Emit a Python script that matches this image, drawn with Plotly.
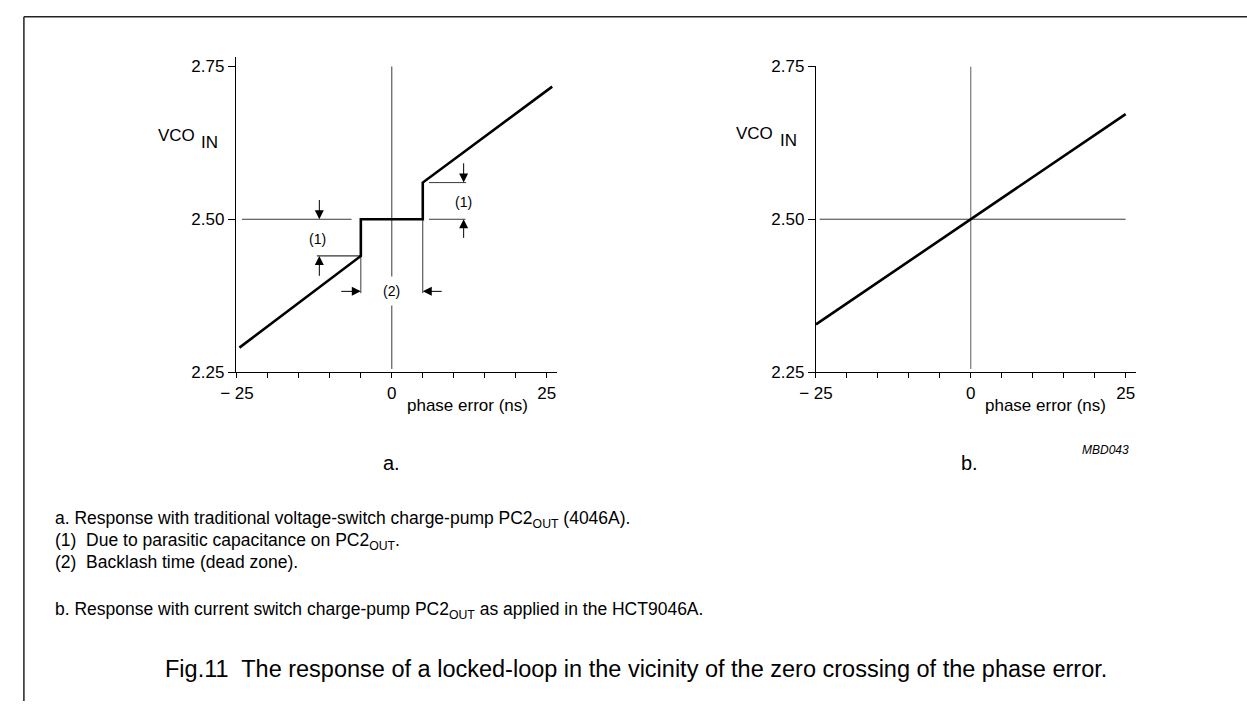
import plotly.graph_objects as go

W, H = 1247, 711
FONT = "Liberation Sans, Arial, Helvetica, sans-serif"

# ---- data -------------------------------------------------------------
# (a) voltage-switch charge pump: linear response with a dead zone step
phase_a = [-24.6, -5.0, -5.0, 5.0, 5.0, 25.9]
vco_a = [2.29, 2.44, 2.50, 2.50, 2.56, 2.717]

# (b) current-switch charge pump: straight line through the origin
phase_b = [-25.0, 25.0]
vco_b = [2.328, 2.672]

# axis ticks
x_tickvals = [-25, -20, -15, -10, -5, 0, 5, 10, 15, 20, 25]
x_ticktext = ["\u2212 25", "", "", "", "", "0", "", "", "", "", "25"]
y_tickvals = [2.25, 2.50, 2.75]
y_ticktext = ["2.25", "2.50", "2.75"]

# reference lines (2.50 V level and zero phase error)
v_ref = 2.50
zero_line_v = [2.255, 2.75]
ref_a_left = [-24.2, -6.5]
ref_a_right = [6.0, 11.9]
ref_b = [-24.4, 25.0]

# dimension markers in panel (a)
step_low, step_high = 2.44, 2.56
dim1_left_x = -11.7
dim1_left_ext = [-12.1, -5.0]
dim1_right_x = 11.6
dim1_right_ext = [6.0, 12.0]
dim2_level = 2.382
dim2_ext_bottom = 2.379
dim2_edges = [-5.0, 5.0]
dim2_tails = [-8.4, 8.3]


def px(x):
    return x / W


def py(y):
    return 1 - y / H


fig = go.Figure()

thin = dict(color="#3a3a3a", width=1)
blk = dict(color="black", width=1)


def seg(xs, ys, line, xa="x", ya="y"):
    fig.add_trace(go.Scatter(x=xs, y=ys, mode="lines", line=line,
                             xaxis=xa, yaxis=ya, hoverinfo="skip",
                             showlegend=False))


# panel (a) reference lines
seg(ref_a_left, [v_ref, v_ref], thin)
seg(ref_a_right, [v_ref, v_ref], thin)
seg([0, 0], zero_line_v, thin)
# extension lines for the dimension marks
seg(dim1_left_ext, [step_low, step_low], blk)
seg(dim1_right_ext, [step_high, step_high], thin)
seg([dim2_edges[0]] * 2, [step_low, dim2_ext_bottom], thin)
seg([dim2_edges[1]] * 2, [v_ref, dim2_ext_bottom], thin)
# response curve (a)
seg(phase_a, vco_a, dict(color="black", width=2.6))

# panel (b)
seg(ref_b, [v_ref, v_ref], thin, "x2", "y2")
seg([0, 0], zero_line_v, dict(color="#5a5a5a", width=1), "x2", "y2")
seg(phase_b, vco_b, dict(color="black", width=2.6), "x2", "y2")

axis_common = dict(showgrid=False, zeroline=False, showline=True,
                   linecolor="black", linewidth=1.3, ticks="outside",
                   tickcolor="black", tickwidth=1,
                   tickfont=dict(family=FONT, size=17, color="black"))

xa = dict(axis_common, range=[-25.16, 26.6], tickmode="array",
          tickvals=x_tickvals, ticktext=x_ticktext, ticklen=5)
ya = dict(axis_common, tickmode="array", tickvals=y_tickvals,
          ticktext=y_ticktext, ticklen=7)

fig.update_layout(
    width=W, height=H,
    margin=dict(l=0, r=0, t=0, b=0),
    paper_bgcolor="white", plot_bgcolor="white",
    xaxis=dict(xa, domain=[px(222), px(547)], anchor="y"),
    yaxis=dict(ya, domain=[py(373), py(49)], range=[2.25, 2.766], anchor="x"),
    xaxis2=dict(xa, domain=[px(810), px(1134)], range=[-25.0, 26.6], anchor="y2"),
    yaxis2=dict(ya, domain=[py(373), py(59)], range=[2.25, 2.75], anchor="x2"),
    font=dict(family=FONT, color="black"),
)

ann = []


def arrow(x, y, ax, ay, xr="x", yr="y"):
    ann.append(dict(x=x, y=y, ax=ax, ay=ay, xref=xr, yref=yr,
                    axref=xr, ayref=yr, text="", showarrow=True,
                    arrowhead=2, arrowsize=1.8, arrowwidth=1,
                    arrowcolor="black"))


# (1) left: step from 2.44 up to 2.50
arrow(dim1_left_x, v_ref, dim1_left_x, 2.534)
arrow(dim1_left_x, step_low, dim1_left_x, 2.405)
# (1) right: step from 2.50 up to 2.56
arrow(dim1_right_x, step_high, dim1_right_x, 2.594)
arrow(dim1_right_x, v_ref, dim1_right_x, 2.467)
# (2) dead zone width
arrow(dim2_edges[0], dim2_level, dim2_tails[0], dim2_level)
arrow(dim2_edges[1], dim2_level, dim2_tails[1], dim2_level)


def text(x, y, s, size=16, xr="paper", yr="paper", xanchor="center", **kw):
    d = dict(x=x, y=y, xref=xr, yref=yr, text=s, showarrow=False,
             xanchor=xanchor, yanchor="middle",
             font=dict(family=FONT, size=size, color="black"))
    d.update(kw)
    ann.append(d)


text(-12.0, 2.467, "(1)", 14, "x", "y")
text(11.6, 2.529, "(1)", 14, "x", "y")
text(0, dim2_level, "(2)", 14, "x", "y", bgcolor="white", borderpad=6)

# axis titles
text(px(182), py(130), "VCO", 17, xanchor="right")
text(px(185), py(137), "IN", 17, xanchor="left")
text(px(768), py(128), "VCO", 17, xanchor="right")
text(px(772), py(135), "IN", 17, xanchor="left")
text(px(457), py(407), "phase error (ns)", 17)
text(px(1043), py(407), "phase error (ns)", 17)

# panel letters and drawing code
text(px(380), py(466), "a.", 20)
text(px(966), py(466), "b.", 20)
text(px(1104), py(453), "<i>MBD043</i>", 12)

# notes and caption
notes = [
    (525, "a. Response with traditional voltage-switch charge-pump PC2<sub>OUT</sub> (4046A)."),
    (547, "(1)  Due to parasitic capacitance on PC2<sub>OUT</sub>."),
    (568, "(2)  Backlash time (dead zone)."),
    (618, "b. Response with current switch charge-pump PC2<sub>OUT</sub> as applied in the HCT9046A."),
]
for y, s in notes:
    text(px(37), py(y), s, 17.5, xanchor="left")

text(px(628), py(678),
     "Fig.11  The response of a locked-loop in the vicinity of the zero crossing of the phase error.",
     23.5)

fig.update_layout(annotations=ann)

# frame lines (top and left)
fig.add_shape(type="line", xref="paper", yref="paper",
              x0=px(7), x1=1, y0=py(8), y1=py(8),
              line=dict(color="#222", width=1.5))
fig.add_shape(type="line", xref="paper", yref="paper",
              x0=px(7), x1=px(7), y0=py(8), y1=0,
              line=dict(color="#222", width=1.5))

fig.write_html("out.html")
